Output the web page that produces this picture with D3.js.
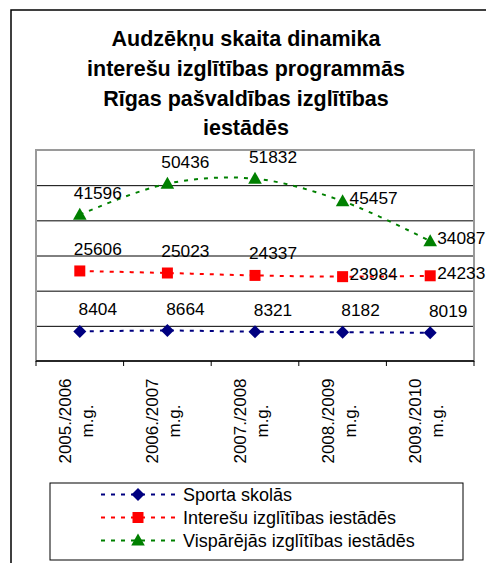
<!DOCTYPE html>
<html>
<head>
<meta charset="utf-8">
<script src="https://cdn.jsdelivr.net/npm/d3@7"></script>
<style>
  html, body { margin: 0; padding: 0; background: #fff; }
  svg { display: block; font-family: Arial, "Liberation Sans", sans-serif; }
</style>
</head>
<body>
<svg id="chart" width="486" height="563"></svg>
<script>
// ---- data ----
const titleLines = ["Audzēkņu skaita dinamika", "interešu izglītības programmās", "Rīgas pašvaldības izglītības", "iestādēs"];
const categories = ["2005./2006 m.g.", "2006./2007 m.g.", "2007./2008 m.g.", "2008./2009 m.g.", "2009./2010 m.g."];
const seriesNames = ["Sporta skolās", "Interešu izglītības iestādēs", "Vispārējās izglītības iestādēs"];
const sportaValues = [8404, 8664, 8321, 8182, 8019];
const intereshuValues = [25606, 25023, 24337, 23984, 24233];
const visparejasValues = [41596, 50436, 51832, 45457, 34087];
const yTicks = [0, 10000, 20000, 30000, 40000, 50000, 60000];
// label placement for each point: "above" or "right"
const sportaLabelPos = ["above", "above", "above", "above", "above"];
const intereshuLabelPos = ["above", "above", "above", "right", "right"];
const visparejasLabelPos = ["above", "above", "above", "right", "right"];

const series = [
  { name: seriesNames[0], values: sportaValues, labelPos: sportaLabelPos, color: "#000080", marker: "diamond" },
  { name: seriesNames[1], values: intereshuValues, labelPos: intereshuLabelPos, color: "#FF0000", marker: "square" },
  { name: seriesNames[2], values: visparejasValues, labelPos: visparejasLabelPos, color: "#008000", marker: "triangle" }
];

// ---- layout ----
const svg = d3.select("#chart");
const plot = { left: 36, right: 474, top: 150, bottom: 361 };

const x = d3.scaleBand().domain(categories).range([plot.left, plot.right]);
const cx = d => x(d) + x.bandwidth() / 2;
const y = d3.scaleLinear().domain([0, 60000]).range([plot.bottom, plot.top]);

// outer chart border (left & top visible)
svg.append("path")
  .attr("d", `M11,563 L11,10 L486,10`)
  .attr("fill", "none").attr("stroke", "#000").attr("stroke-width", 1.5);

// title
const title = svg.append("text")
  .attr("text-anchor", "middle")
  .attr("font-size", 21.5).attr("font-weight", "bold").attr("fill", "#000");
titleLines.forEach((t, i) => {
  title.append("tspan").attr("x", 246).attr("y", 46 + i * 29.8).text(t);
});

// gridlines
const grid = d3.axisLeft(y).tickValues(yTicks.slice(1, -1)).tickSize(-(plot.right - plot.left)).tickFormat("");
svg.append("g").attr("transform", `translate(${plot.left},0)`).call(grid)
  .call(g => g.select(".domain").remove())
  .call(g => g.selectAll("line").attr("stroke", "#000").attr("stroke-width", 1));

// plot border
svg.append("rect")
  .attr("x", plot.left).attr("y", plot.top)
  .attr("width", plot.right - plot.left).attr("height", plot.bottom - plot.top)
  .attr("fill", "none").attr("stroke", "#9a9a9a").attr("stroke-width", 2);

// x axis (tick marks at band boundaries)
const xAxisG = svg.append("g");
xAxisG.append("line")
  .attr("x1", plot.left).attr("x2", plot.right)
  .attr("y1", plot.bottom).attr("y2", plot.bottom)
  .attr("stroke", "#000").attr("stroke-width", 1.5);
const boundaries = categories.map(c => x(c)).concat([plot.right]);
xAxisG.selectAll(".tk").data(boundaries).enter().append("line")
  .attr("x1", d => d).attr("x2", d => d)
  .attr("y1", plot.bottom).attr("y2", plot.bottom + 5)
  .attr("stroke", "#000").attr("stroke-width", 1);

// x labels rotated, two lines
categories.forEach(c => {
  const parts = c.split(" ");
  const t = svg.append("text")
    .attr("transform", `translate(${cx(c) - 2},421) rotate(-90)`)
    .attr("text-anchor", "middle").attr("font-size", 17).attr("fill", "#000");
  t.append("tspan").attr("x", 0).attr("y", -7).text(parts[0]);
  t.append("tspan").attr("x", 0).attr("y", 15).text(parts[1]);
});

// marker shapes
function markerPath(type) {
  if (type === "diamond") return "M0,-6.5 L6.5,0 L0,6.5 L-6.5,0 Z";
  if (type === "square") return "M-5.5,-5.5 L5.5,-5.5 L5.5,5.5 L-5.5,5.5 Z";
  return "M0,-7 L6.8,5 L-6.8,5 Z";
}

const line = d3.line()
  .x((d, i) => cx(categories[i]))
  .y(d => y(d))
  .curve(d3.curveCatmullRom.alpha(0.5));

series.forEach(s => {
  svg.append("path")
    .attr("d", line(s.values))
    .attr("fill", "none").attr("stroke", s.color)
    .attr("stroke-width", 2).attr("stroke-dasharray", "4,6");
  s.values.forEach((v, i) => {
    const px = cx(categories[i]), py = y(v);
    svg.append("path").attr("d", markerPath(s.marker))
      .attr("transform", `translate(${px},${py})`).attr("fill", s.color);
    const pos = s.labelPos[i];
    svg.append("text")
      .attr("x", pos === "above" ? px + 18 : px + 7)
      .attr("y", pos === "above" ? py - 16 : py + 3)
      .attr("text-anchor", pos === "above" ? "middle" : "start")
      .attr("font-size", 17.3).attr("fill", "#000")
      .text(d3.format("d")(v));
  });
});

// legend
svg.append("rect")
  .attr("x", 50).attr("y", 483).attr("width", 413).attr("height", 77)
  .attr("fill", "#fff").attr("stroke", "#000").attr("stroke-width", 1);
series.forEach((s, i) => {
  const ly = 494.5 + i * 23;
  svg.append("line")
    .attr("x1", 101).attr("x2", 177).attr("y1", ly).attr("y2", ly)
    .attr("stroke", s.color).attr("stroke-width", 2).attr("stroke-dasharray", "4,6");
  svg.append("path").attr("d", markerPath(s.marker))
    .attr("transform", `translate(138,${ly})`).attr("fill", s.color);
  svg.append("text")
    .attr("x", 183).attr("y", ly + 6.5)
    .attr("font-size", 18).attr("fill", "#000")
    .text(s.name);
});
</script>
</body>
</html>
